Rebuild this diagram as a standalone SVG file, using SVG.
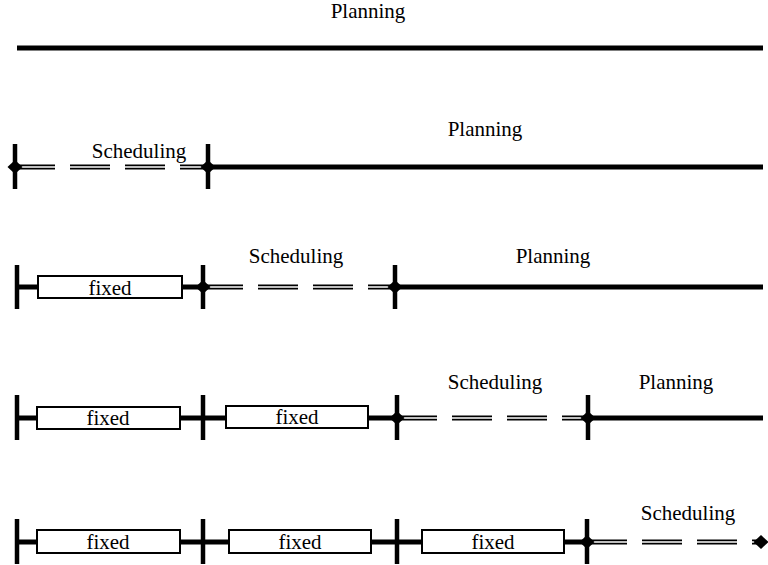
<svg xmlns="http://www.w3.org/2000/svg" width="768" height="565" viewBox="0 0 768 565">
  <defs>
    <style>
      .lbl { font-family: "Liberation Serif", "DejaVu Serif", "Times New Roman", serif; font-size: 21px; fill: #000; text-anchor: middle; }
      .thick { stroke: #000; stroke-width: 5; fill: none; }
      .bar { stroke: #000; stroke-width: 4.5; fill: none; }
      .box { fill: #fff; stroke: #000; stroke-width: 2; }
      .dbl-o { stroke: #000; stroke-width: 5; fill: none; stroke-dasharray: 40 15; }
      .dbl-i { stroke: #fff; stroke-width: 1.6; fill: none; stroke-dasharray: 40 15; }
    </style>
    <path id="dia" d="M -7.5 0 L 0 -7 L 7.5 0 L 0 7 Z" fill="#000"/>
  </defs>
  <rect width="768" height="565" fill="#fff"/>

  <!-- Row 0: whole horizon is planning -->
  <g id="row0">
    <text class="lbl" x="368" y="18">Planning</text>
    <line class="thick" x1="17" y1="48" x2="763" y2="48"/>
  </g>

  <!-- Row 1 -->
  <g id="row1">
    <line class="dbl-o" x1="15" y1="167" x2="208" y2="167"/>
    <line class="dbl-i" x1="15" y1="167" x2="208" y2="167"/>
    <line class="thick" x1="208" y1="167" x2="763" y2="167"/>
    <line class="bar" x1="15" y1="144" x2="15" y2="189"/>
    <line class="bar" x1="208" y1="144" x2="208" y2="189"/>
    <use href="#dia" x="15" y="167"/>
    <use href="#dia" x="208" y="167"/>
    <text class="lbl" x="139" y="158">Scheduling</text>
    <text class="lbl" x="485" y="136">Planning</text>
  </g>

  <!-- Row 2 -->
  <g id="row2">
    <line class="thick" x1="18" y1="287" x2="203" y2="287"/>
    <rect class="box" x="38" y="276" width="144" height="22"/>
    <text class="lbl" x="110" y="295">fixed</text>
    <line class="dbl-o" x1="203" y1="287" x2="395" y2="287"/>
    <line class="dbl-i" x1="203" y1="287" x2="395" y2="287"/>
    <line class="thick" x1="395" y1="287" x2="763" y2="287"/>
    <line class="bar" x1="17" y1="265" x2="17" y2="309"/>
    <line class="bar" x1="203" y1="265" x2="203" y2="309"/>
    <line class="bar" x1="395" y1="265" x2="395" y2="309"/>
    <use href="#dia" x="203" y="287"/>
    <use href="#dia" x="395" y="287"/>
    <text class="lbl" x="296" y="263">Scheduling</text>
    <text class="lbl" x="553" y="263">Planning</text>
  </g>

  <!-- Row 3 -->
  <g id="row3">
    <line class="thick" x1="17" y1="418" x2="397" y2="418"/>
    <rect class="box" x="37" y="407" width="143" height="22"/>
    <text class="lbl" x="108" y="425">fixed</text>
    <rect class="box" x="226" y="406" width="142" height="22"/>
    <text class="lbl" x="297" y="424">fixed</text>
    <line class="dbl-o" x1="397" y1="418" x2="588" y2="418"/>
    <line class="dbl-i" x1="397" y1="418" x2="588" y2="418"/>
    <line class="thick" x1="588" y1="418" x2="763" y2="418"/>
    <line class="bar" x1="17" y1="395" x2="17" y2="440"/>
    <line class="bar" x1="203" y1="395" x2="203" y2="440"/>
    <line class="bar" x1="397" y1="395" x2="397" y2="440"/>
    <line class="bar" x1="588" y1="395" x2="588" y2="440"/>
    <use href="#dia" x="397" y="418"/>
    <use href="#dia" x="588" y="418"/>
    <text class="lbl" x="495" y="389">Scheduling</text>
    <text class="lbl" x="676" y="389">Planning</text>
  </g>

  <!-- Row 4 -->
  <g id="row4">
    <line class="thick" x1="17" y1="542" x2="587" y2="542"/>
    <rect class="box" x="37" y="530" width="143" height="23"/>
    <text class="lbl" x="108" y="549">fixed</text>
    <rect class="box" x="229" y="530" width="142" height="23"/>
    <text class="lbl" x="300" y="549">fixed</text>
    <rect class="box" x="422" y="530" width="142" height="23"/>
    <text class="lbl" x="493" y="549">fixed</text>
    <line class="dbl-o" x1="587" y1="542" x2="760" y2="542"/>
    <line class="dbl-i" x1="587" y1="542" x2="760" y2="542"/>
    <line class="bar" x1="17" y1="519" x2="17" y2="564"/>
    <line class="bar" x1="203" y1="519" x2="203" y2="564"/>
    <line class="bar" x1="397" y1="519" x2="397" y2="564"/>
    <line class="bar" x1="587" y1="519" x2="587" y2="564"/>
    <use href="#dia" x="587" y="542"/>
    <use href="#dia" x="761" y="542"/>
    <text class="lbl" x="688" y="520">Scheduling</text>
  </g>
</svg>
